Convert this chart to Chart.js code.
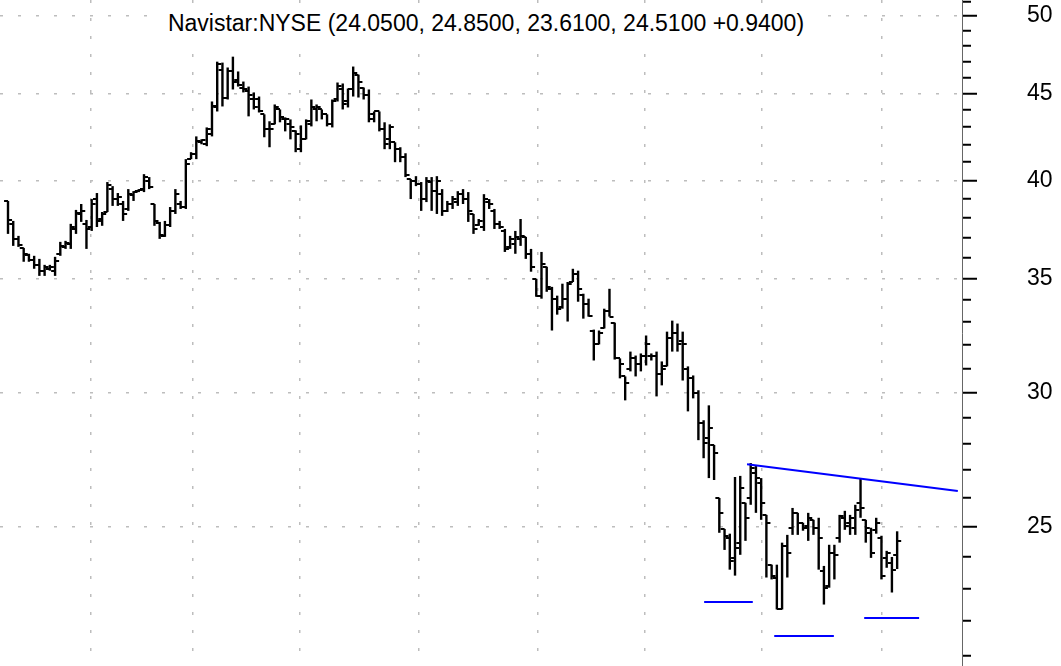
<!DOCTYPE html>
<html>
<head>
<meta charset="utf-8">
<title>Navistar:NYSE</title>
<script src="https://cdn.jsdelivr.net/npm/chart.js@4.4.0/dist/chart.umd.min.js"></script>
<style>
  html, body { margin: 0; padding: 0; background: #fff; }
  #wrap { position: relative; width: 1061px; height: 666px; overflow: hidden; }
  #chartTitle {
    position: absolute; left: 158px; top: 6px; width: 656px; height: 34px;
    line-height: 34px; background: #fff; text-align: center; white-space: nowrap;
    font-family: 'Liberation Sans', Arial, sans-serif; font-size: 23px; color: #000;
  }
</style>
</head>
<body>
<div id="wrap">
  <canvas id="priceChart"></canvas>
  <div id="chartTitle">Navistar:NYSE (24.0500, 24.8500, 23.6100, 24.5100 +0.9400)</div>
</div>
<script>
// daily bars (one entry per trading day)
const opens = [
  38.90, 37.71, 36.95, 36.50, 36.16, 35.91, 35.67, 35.39, 35.48, 35.39,
  36.21, 36.55, 36.70, 37.45, 38.22, 37.71, 37.55, 39.00, 37.96, 38.32,
  39.53, 39.00, 38.74, 38.48, 39.21, 39.42, 39.53, 39.96, 38.74, 37.76,
  37.10, 37.66, 38.38, 38.74, 38.58, 41.17, 41.44, 42.12, 42.01, 42.58,
  44.16, 46.49, 44.76, 46.37, 45.86, 45.37, 45.13, 44.64, 44.64, 43.75,
  42.87, 43.16, 44.04, 43.45, 43.16, 42.75, 41.73, 42.29, 43.16, 44.04,
  44.04, 43.75, 43.16, 44.64, 45.25, 44.52, 45.25, 46.17, 45.37, 44.94,
  43.75, 43.92, 42.87, 42.29, 42.12, 41.73, 41.28, 40.07, 39.96, 39.80,
  39.00, 39.91, 39.42, 39.26, 38.38, 38.74, 38.84, 39.26, 39.00, 38.22,
  37.66, 37.55, 38.84, 38.38, 37.71, 37.35, 36.55, 36.70, 36.95, 37.05,
  36.21, 35.00, 34.21, 35.58, 34.53, 34.07, 33.70, 34.07, 34.85, 35.24,
  34.25, 33.84, 32.63, 32.06, 32.72, 33.52, 32.98, 31.42, 30.66, 30.99,
  31.42, 31.20, 31.50, 31.50, 31.50, 30.78, 31.08, 32.28, 32.50, 32.19,
  30.99, 30.58, 29.96, 28.77, 28.20, 27.94, 26.00, 24.93, 24.63, 23.97,
  24.47, 25.83, 26.00, 26.89, 26.53, 25.41, 23.75, 23.34, 22.35, 24.37,
  24.97, 25.48, 25.14, 25.04, 25.24, 24.97, 23.55, 23.08, 24.14, 24.63,
  25.31, 25.14, 24.97, 25.83, 25.24, 24.80, 24.90, 24.63, 23.97, 23.81,
  24.05
];
const highs = [
  38.90, 37.86, 37.10, 36.50, 36.21, 36.11, 35.96, 35.67, 35.67, 36.06,
  36.80, 36.85, 37.71, 38.43, 38.74, 37.91, 39.00, 39.32, 38.32, 39.91,
  39.69, 39.32, 38.90, 39.53, 39.42, 39.53, 40.34, 40.18, 38.74, 37.81,
  37.86, 38.58, 39.53, 38.90, 41.17, 41.56, 42.46, 42.29, 42.98, 44.52,
  46.99, 46.93, 46.62, 47.31, 46.37, 45.74, 45.43, 45.07, 44.82, 43.75,
  43.34, 44.34, 44.04, 43.57, 43.45, 42.81, 43.10, 43.45, 44.64, 44.34,
  44.04, 43.75, 44.64, 45.68, 45.62, 45.31, 46.68, 46.17, 45.37, 45.25,
  43.92, 43.92, 43.28, 43.16, 42.12, 41.84, 41.50, 40.07, 40.23, 39.91,
  40.18, 40.18, 40.23, 39.53, 38.90, 39.16, 39.42, 39.53, 39.37, 38.22,
  37.96, 39.26, 39.00, 38.48, 37.86, 37.45, 37.10, 37.35, 37.96, 37.05,
  36.45, 35.00, 36.30, 35.58, 34.62, 34.21, 34.77, 34.85, 35.48, 35.39,
  34.30, 34.07, 32.67, 32.63, 33.61, 34.53, 32.98, 31.42, 30.66, 31.71,
  31.54, 31.63, 32.41, 31.63, 31.71, 31.29, 32.58, 33.07, 32.94, 32.58,
  31.08, 30.70, 30.09, 28.89, 29.48, 27.94, 26.00, 24.93, 24.77, 26.75,
  26.79, 25.83, 27.26, 27.15, 26.71, 25.41, 23.75, 23.75, 24.47, 24.73,
  25.65, 25.48, 25.14, 25.48, 25.24, 25.31, 23.71, 24.40, 24.40, 25.41,
  25.55, 25.41, 25.76, 26.71, 25.24, 24.97, 25.31, 24.70, 24.20, 24.00,
  24.85
];
const lows = [
  37.20, 36.60, 36.55, 35.82, 35.82, 35.48, 35.14, 35.14, 35.39, 35.14,
  36.11, 36.45, 36.45, 37.20, 37.81, 36.45, 37.35, 37.55, 37.61, 38.32,
  38.64, 38.64, 37.86, 38.38, 38.90, 39.37, 39.37, 39.53, 37.61, 36.95,
  37.05, 37.55, 38.22, 38.48, 38.48, 41.17, 41.17, 42.01, 41.90, 42.46,
  43.92, 44.22, 44.64, 45.25, 45.43, 45.07, 43.63, 44.04, 43.86, 42.41,
  41.84, 43.16, 43.28, 42.75, 42.29, 41.56, 41.56, 42.29, 43.04, 43.34,
  43.45, 43.04, 42.98, 44.52, 44.04, 44.16, 44.82, 44.76, 44.64, 43.28,
  43.28, 42.75, 41.73, 41.73, 41.00, 41.00, 40.18, 39.00, 39.69, 38.38,
  38.84, 38.38, 38.22, 38.12, 38.32, 38.48, 38.64, 38.74, 37.81, 37.20,
  37.61, 37.35, 38.48, 37.45, 37.45, 36.30, 36.45, 36.21, 36.60, 35.96,
  35.34, 34.16, 34.07, 34.39, 32.63, 33.34, 33.61, 33.03, 34.85, 33.93,
  33.16, 33.25, 31.33, 32.02, 32.72, 33.25, 31.37, 30.58, 29.68, 30.87,
  30.66, 30.87, 31.12, 31.33, 29.84, 30.29, 31.08, 31.71, 31.71, 30.49,
  29.24, 29.76, 28.12, 27.44, 26.71, 26.64, 24.80, 24.23, 23.59, 23.40,
  24.07, 24.53, 25.76, 25.48, 25.24, 23.34, 23.28, 22.35, 22.35, 23.34,
  24.73, 24.73, 24.87, 24.53, 24.73, 23.59, 22.50, 23.02, 23.28, 24.47,
  24.90, 24.73, 24.73, 25.31, 24.47, 23.97, 24.77, 23.28, 23.65, 22.87,
  23.61
];
const closes = [
  37.90, 36.95, 36.65, 36.21, 35.91, 35.67, 35.39, 35.58, 35.58, 35.86,
  36.60, 36.75, 37.55, 38.27, 38.38, 37.45, 38.74, 37.86, 38.22, 39.74,
  39.00, 39.11, 38.22, 39.26, 39.37, 39.48, 40.18, 39.64, 37.86, 37.15,
  37.66, 38.38, 39.26, 38.58, 40.89, 41.44, 42.18, 42.24, 42.87, 44.22,
  46.81, 44.76, 46.37, 45.74, 45.55, 45.25, 44.94, 44.16, 43.92, 42.87,
  42.87, 44.16, 43.57, 43.45, 42.98, 42.58, 42.29, 43.34, 44.16, 44.16,
  43.75, 43.16, 44.52, 45.49, 44.34, 45.25, 46.30, 45.74, 44.94, 43.45,
  43.92, 42.87, 42.01, 42.98, 41.73, 41.28, 40.29, 39.96, 39.80, 39.00,
  39.96, 39.42, 39.96, 38.38, 38.74, 39.00, 39.26, 39.00, 38.38, 37.45,
  37.86, 39.00, 38.74, 37.71, 37.55, 36.45, 36.95, 37.05, 37.10, 36.21,
  35.58, 34.21, 35.72, 34.62, 34.07, 33.61, 34.07, 34.77, 35.24, 34.53,
  33.84, 33.29, 32.06, 32.50, 33.52, 33.25, 31.42, 31.20, 30.37, 31.42,
  31.20, 31.50, 32.06, 31.50, 30.78, 30.99, 32.28, 32.50, 32.06, 32.06,
  30.58, 29.96, 28.77, 28.01, 28.58, 27.63, 25.48, 24.70, 23.87, 24.30,
  26.35, 25.31, 27.08, 26.71, 25.83, 25.14, 23.40, 22.35, 24.37, 24.14,
  25.48, 25.14, 24.97, 25.31, 24.97, 24.63, 23.02, 24.14, 24.07, 25.38,
  25.04, 25.31, 25.58, 25.65, 24.97, 24.14, 25.14, 23.40, 24.14, 23.57,
  24.51
];

// month separators (in bar units) and price ticks of the right axis
const monthLines = [15.9, 35.4, 55.7, 78.6, 101.2, 121.8, 144.2, 167.1];
const priceTicks = [21, 22, 23, 24, 25, 26, 27, 28, 29, 30, 31, 32, 33, 34, 35, 36,
  37, 38, 39, 40, 41, 42, 43, 44, 45, 46, 47, 48, 49, 50, 51];

// blue drawings: falling resistance line and three support marks
const trendLine = [{ x: 141.3, y: 27.22 }, { x: 181.6, y: 26.25 }];
const supportA = [{ x: 133.1, y: 22.58 }, { x: 142.4, y: 22.58 }];
const supportB = [{ x: 146.5, y: 21.56 }, { x: 157.9, y: 21.56 }];
const supportC = [{ x: 163.7, y: 22.09 }, { x: 174.2, y: 22.09 }];

const FONT = "'Liberation Sans', Arial, sans-serif";

document.addEventListener('DOMContentLoaded', function() {
    drawChart();
});

// small canvas used as point style: tick to the left (open) or right (close)
function tickMark(side) {
    const c = document.createElement('canvas');
    c.width = 10;
    c.height = 2;
    const g = c.getContext('2d');
    g.fillStyle = '#000';
    g.fillRect(side === 'open' ? 1 : 5, 0, 4, 2);
    return c;
}

function blueLine(points) {
    return {
        type: 'line',
        data: points,
        borderColor: '#0000ff',
        borderWidth: 2,
        pointRadius: 0,
        fill: false,
        order: 0
    };
}

function drawChart() {
    const ctx = document.getElementById('priceChart').getContext('2d');
    const isMajor = c => c.tick && c.tick.value % 5 === 0;

    new Chart(ctx, {
        type: 'bar',
        data: {
            datasets: [
                {
                    label: 'High-Low',
                    data: highs.map((h, i) => ({ x: i, y: [lows[i], h] })),
                    backgroundColor: '#000',
                    borderWidth: 0,
                    barThickness: 2.4,
                    inflateAmount: 0,
                    grouped: false,
                    order: 2
                },
                {
                    type: 'line',
                    label: 'Open',
                    data: opens.map((v, i) => ({ x: i, y: v })),
                    showLine: false,
                    pointStyle: tickMark('open'),
                    pointRadius: 3,
                    order: 1
                },
                {
                    type: 'line',
                    label: 'Close',
                    data: closes.map((v, i) => ({ x: i, y: v })),
                    showLine: false,
                    pointStyle: tickMark('close'),
                    pointRadius: 3,
                    order: 1
                },
                blueLine(trendLine),
                blueLine(supportA),
                blueLine(supportB),
                blueLine(supportC)
            ]
        },
        options: {
            responsive: true,
            maintainAspectRatio: false,
            animation: false,
            events: [],
            layout: { padding: 0, autoPadding: false },
            plugins: {
                legend: { display: false },
                tooltip: { enabled: false },
                title: { display: false }
            },
            scales: {
                x: {
                    type: 'linear',
                    min: -1.53,
                    max: 182.4,
                    bounds: 'data',
                    offset: false,
                    afterBuildTicks: s => { s.ticks = monthLines.map(v => ({ value: v })); },
                    afterFit: s => { s.height = 0; s.paddingLeft = 0; s.paddingRight = 0; },
                    ticks: { display: false },
                    grid: { color: '#bdbdbd', lineWidth: 1.5, drawTicks: false, offset: false },
                    border: { display: false, dash: [3, 15] }
                },
                y: {
                    type: 'logarithmic',
                    position: 'right',
                    min: 20.70,
                    max: 51.09,
                    bounds: 'data',
                    afterBuildTicks: s => { s.ticks = priceTicks.map(v => ({ value: v })); },
                    // keep the plot full height: the label padding must not shrink it
                    afterFit: s => { s.width = 99; s.paddingTop = 0; s.paddingBottom = 0; },
                    ticks: {
                        autoSkip: false,
                        padding: 50,
                        color: '#000',
                        font: { family: FONT, size: 23 },
                        callback: v => (v % 5 === 0 ? String(v) : '')
                    },
                    grid: {
                        color: c => (isMajor(c) ? '#bdbdbd' : 'rgba(0,0,0,0)'),
                        lineWidth: 1.5,
                        tickLength: 15,
                        tickWidth: 2,
                        tickColor: '#000',
                        tickBorderDash: c => (isMajor(c) ? [] : [8, 40])
                    },
                    border: { display: true, color: '#666', width: 1, dash: [3, 15] }
                }
            }
        }
    });
    console.log('Chart drawn:', opens.length, 'bars');
}
</script>
</body>
</html>
